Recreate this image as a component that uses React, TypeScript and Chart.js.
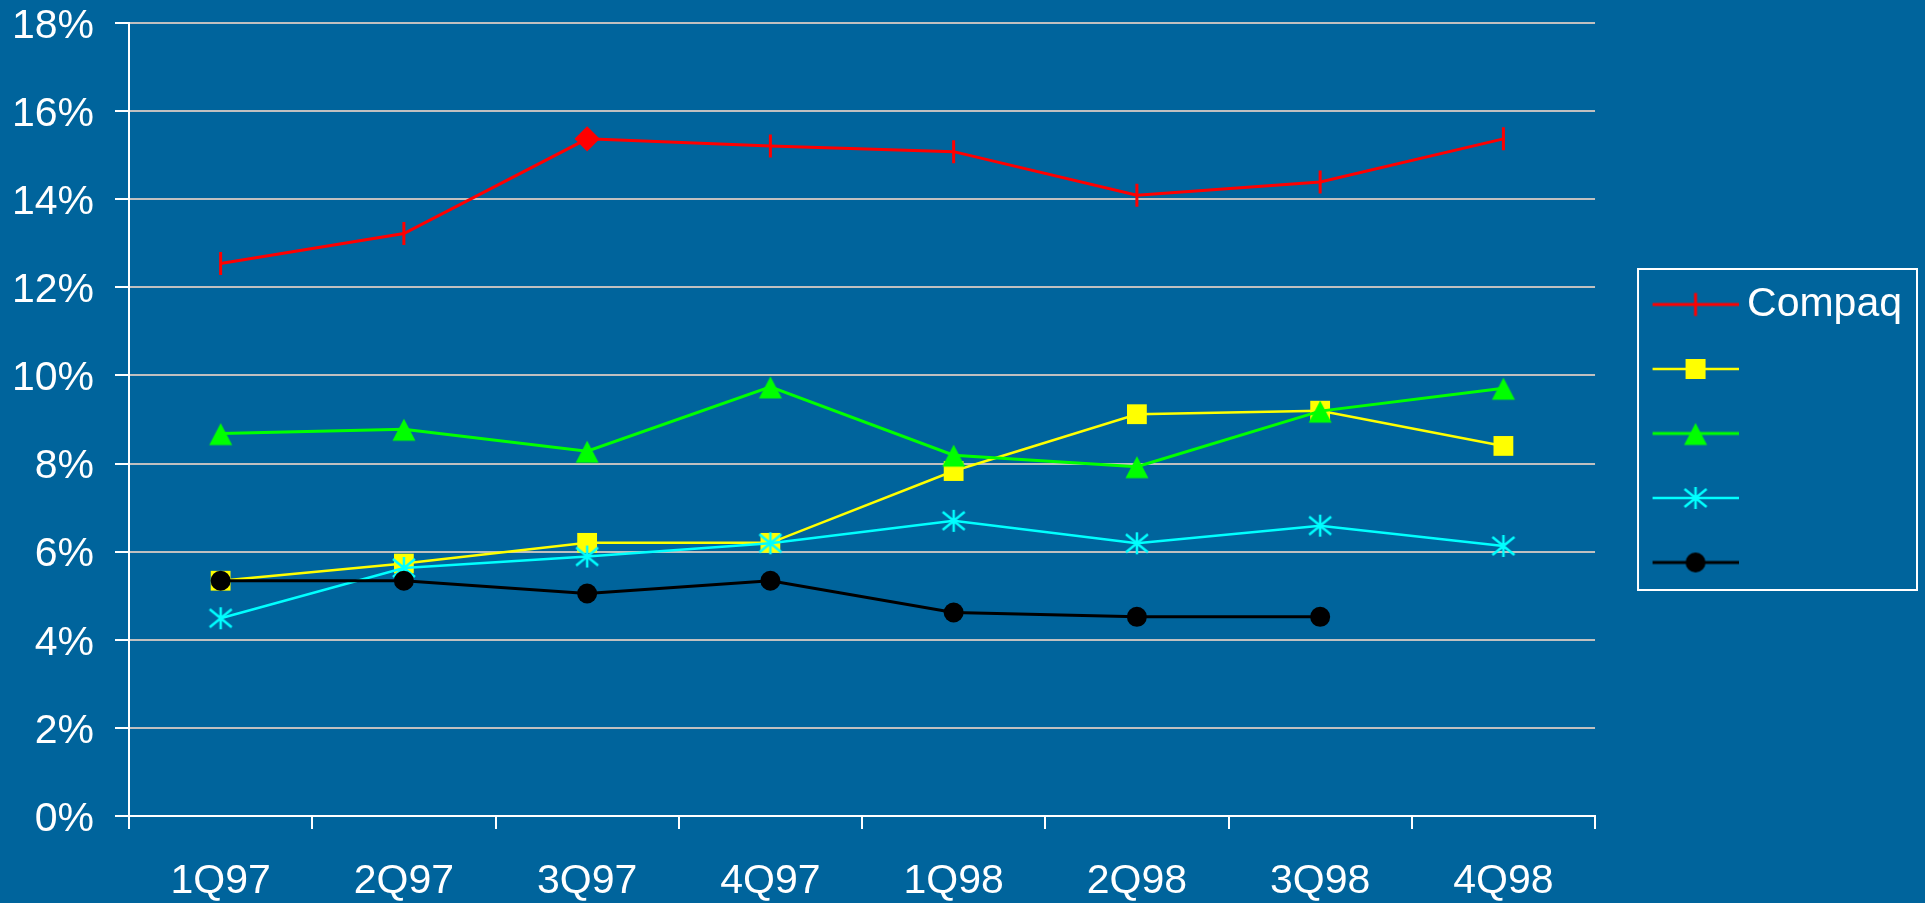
import React, { useEffect, useRef } from 'react';
import { Chart, registerables } from 'chart.js';

Chart.register(...registerables);

// ---------- data ----------
const categories = ['1Q97', '2Q97', '3Q97', '4Q97', '1Q98', '2Q98', '3Q98', '4Q98'];
const seriesNames = ['Compaq', '', '', '', ''];
const compaqShare = [12.54, 13.22, 15.37, 15.21, 15.08, 14.09, 14.39, 15.37];
const yellowShare = [5.34, 5.73, 6.2, 6.2, 7.83, 9.12, 9.2, 8.4];
const greenShare = [8.68, 8.78, 8.28, 9.74, 8.19, 7.93, 9.19, 9.71];
const cyanShare = [4.49, 5.63, 5.89, 6.19, 6.7, 6.19, 6.59, 6.13];
const blackShare = [5.34, 5.34, 5.05, 5.34, 4.62, 4.52, 4.52, null];
const yMin = 0;
const yMax = 18;
const yStep = 2;
const compaqDiamondIndex = 2;

// ---------- styles ----------
const BG = 'rgb(0,100,156)';
const FONT = "'Liberation Sans', Arial, sans-serif";
const GRID = '#C0C0C0';
const RED = '#FF0000';
const YELLOW = '#FFFF00';
const GREEN = '#00FF00';
const CYAN = '#00FFFF';
const BLACK = '#000000';

const TICK_FONT = 41;
const LEGEND_FONT = 41;
const LEGEND_PAD = 23.5;
const LEGEND_TITLE_H = 28;
const ICON_W = 132;
const ICON_H = 30;
const LINE_START = 46;
const MARKER_X = 89;

type MarkerFn = (ctx: CanvasRenderingContext2D, x: number, y: number) => void;

const drawTriangle: MarkerFn = (ctx, x, y) => {
  ctx.fillStyle = GREEN;
  ctx.beginPath();
  ctx.moveTo(x, y - 10.5);
  ctx.lineTo(x + 11.5, y + 11.5);
  ctx.lineTo(x - 11.5, y + 11.5);
  ctx.closePath();
  ctx.fill();
};

const drawAsterisk: MarkerFn = (ctx, x, y) => {
  ctx.strokeStyle = CYAN;
  ctx.lineWidth = 2.5;
  ctx.lineCap = 'butt';
  ctx.beginPath();
  ctx.moveTo(x, y - 11);
  ctx.lineTo(x, y + 11);
  ctx.moveTo(x - 11, y - 9);
  ctx.lineTo(x + 11, y + 9);
  ctx.moveTo(x - 11, y + 9);
  ctx.lineTo(x + 11, y - 9);
  ctx.stroke();
};

const drawVTick: MarkerFn = (ctx, x, y) => {
  ctx.strokeStyle = RED;
  ctx.lineWidth = 3;
  ctx.beginPath();
  ctx.moveTo(x, y - 11.5);
  ctx.lineTo(x, y + 11.5);
  ctx.stroke();
};

const drawSquare: MarkerFn = (ctx, x, y) => {
  ctx.fillStyle = YELLOW;
  ctx.fillRect(x - 10, y - 10, 20, 20);
};

const drawCircle: MarkerFn = (ctx, x, y) => {
  ctx.fillStyle = BLACK;
  ctx.beginPath();
  ctx.arc(x, y, 10, 0, Math.PI * 2);
  ctx.fill();
};

function makeMarker(fn: MarkerFn): HTMLCanvasElement {
  const c = document.createElement('canvas');
  c.width = 28;
  c.height = 28;
  const ctx = c.getContext('2d')!;
  fn(ctx, 14, 14);
  return c;
}

function makeLegendIcon(color: string, lineWidth: number, fn: MarkerFn): HTMLCanvasElement {
  const c = document.createElement('canvas');
  c.width = ICON_W;
  c.height = ICON_H;
  const ctx = c.getContext('2d')!;
  ctx.strokeStyle = color;
  ctx.lineWidth = lineWidth;
  ctx.beginPath();
  ctx.moveTo(LINE_START, ICON_H / 2);
  ctx.lineTo(ICON_W, ICON_H / 2);
  ctx.stroke();
  fn(ctx, MARKER_X, ICON_H / 2);
  return c;
}

const legendBorder = {
  id: 'legendBorder',
  afterDraw(chart: any) {
    const lg = chart.legend;
    if (!lg) return;
    const ctx = chart.ctx as CanvasRenderingContext2D;
    const colH = 5 * (LEGEND_FONT + LEGEND_PAD);
    const y0 = (lg.top + LEGEND_TITLE_H + LEGEND_PAD + lg.bottom - colH) / 2;
    const top = y0 - 15;
    const bottom = y0 + 306;
    const left = lg.left + 43;
    const right = chart.width - 8;
    ctx.save();
    ctx.strokeStyle = '#FFFFFF';
    ctx.lineWidth = 2;
    ctx.strokeRect(left, top, right - left, bottom - top);
    ctx.restore();
  },
};

export default function App() {
  const ref = useRef<HTMLCanvasElement | null>(null);

  useEffect(() => {
    if (!ref.current) return;
    const triImg = makeMarker(drawTriangle);
    const starImg = makeMarker(drawAsterisk);

    const icons = [
      makeLegendIcon(RED, 3, drawVTick),
      makeLegendIcon(YELLOW, 2.5, drawSquare),
      makeLegendIcon(GREEN, 3, drawTriangle),
      makeLegendIcon(CYAN, 2.5, drawAsterisk),
      makeLegendIcon(BLACK, 3, drawCircle),
    ];

    const chart = new Chart(ref.current, {
      type: 'line',
      data: {
        labels: categories,
        datasets: [
          {
            label: seriesNames[0],
            data: compaqShare,
            borderColor: RED,
            backgroundColor: RED,
            borderWidth: 3,
            order: 5,
            pointStyle: (c: any) => (c.dataIndex === compaqDiamondIndex ? 'rectRot' : 'line'),
            pointRadius: (c: any) => (c.dataIndex === compaqDiamondIndex ? 10.5 : 11.5),
            pointRotation: 90,
            pointBorderWidth: 3,
            pointBorderColor: RED,
            pointBackgroundColor: RED,
          },
          {
            label: seriesNames[1],
            data: yellowShare,
            borderColor: YELLOW,
            backgroundColor: YELLOW,
            borderWidth: 2.5,
            order: 4,
            pointStyle: 'rect',
            pointRadius: 14,
            pointBorderWidth: 0,
            pointBackgroundColor: YELLOW,
          },
          {
            label: seriesNames[2],
            data: greenShare,
            borderColor: GREEN,
            backgroundColor: GREEN,
            borderWidth: 3,
            order: 3,
            pointStyle: triImg,
            pointRadius: 12,
          },
          {
            label: seriesNames[3],
            data: cyanShare,
            borderColor: CYAN,
            backgroundColor: CYAN,
            borderWidth: 2.5,
            order: 2,
            pointStyle: starImg,
            pointRadius: 12,
          },
          {
            label: seriesNames[4],
            data: blackShare,
            borderColor: BLACK,
            backgroundColor: BLACK,
            borderWidth: 3,
            order: 1,
            pointStyle: 'circle',
            pointRadius: 10,
            pointBorderWidth: 0,
            pointBackgroundColor: BLACK,
          },
        ],
      },
      options: {
        responsive: false,
        animation: false,
        events: [],
        devicePixelRatio: 1,
        layout: { padding: { top: 23, left: 14, right: 13, bottom: 0 } },
        elements: { line: { tension: 0 } },
        scales: {
          x: {
            offset: true,
            afterFit: (s: any) => {
              s.height = 87;
              s.paddingLeft = 0;
              s.paddingRight = 0;
            },
            grid: {
              display: true,
              offset: true,
              drawOnChartArea: false,
              drawTicks: true,
              tickLength: 13,
              tickColor: '#FFFFFF',
              tickWidth: 2,
              color: '#FFFFFF',
              lineWidth: 2,
            },
            border: { display: true, color: '#FFFFFF', width: 2 },
            ticks: {
              color: '#FFFFFF',
              font: { family: FONT, size: TICK_FONT },
              padding: 28,
              maxRotation: 0,
              autoSkip: false,
            },
          },
          y: {
            min: yMin,
            max: yMax,
            afterFit: (s: any) => {
              s.width = 115;
              s.paddingTop = 0;
              s.paddingBottom = 0;
            },
            grid: {
              color: (c: any) => (c.tick && c.tick.value === 0 ? '#FFFFFF' : GRID),
              lineWidth: 2,
              tickLength: 14,
              tickColor: '#FFFFFF',
              tickWidth: 2,
            },
            border: { display: true, color: '#FFFFFF', width: 2 },
            ticks: {
              stepSize: yStep,
              color: '#FFFFFF',
              font: { family: FONT, size: TICK_FONT, lineHeight: 1 },
              padding: 21,
              labelOffset: 3.5,
              callback: (v: any) => `${v}%`,
            },
          },
        },
        plugins: {
          tooltip: { enabled: false },
          legend: {
            position: 'right',
            fullSize: false,
            align: 'center',
            title: {
              display: true,
              text: ' ',
              font: { family: FONT, size: 20, lineHeight: 1 },
              padding: 4,
            },
            labels: {
              usePointStyle: true,
              pointStyleWidth: 108,
              boxHeight: LEGEND_FONT,
              padding: LEGEND_PAD,
              color: '#FFFFFF',
              font: { family: FONT, size: LEGEND_FONT },
              generateLabels: () =>
                seriesNames.map((name, i) => ({
                  text: name,
                  fillStyle: 'rgba(0,0,0,0)',
                  strokeStyle: 'rgba(0,0,0,0)',
                  lineWidth: 0,
                  hidden: false,
                  datasetIndex: i,
                  pointStyle: icons[i] as any,
                  fontColor: '#FFFFFF',
                })),
            },
          },
        },
      } as any,
      plugins: [legendBorder],
    });

    return () => chart.destroy();
  }, []);

  return (
    <div
      style={{
        position: 'fixed',
        left: 0,
        top: 0,
        width: '1925px',
        height: '903px',
        background: BG,
      }}
    >
      <canvas ref={ref} width={1925} height={903} style={{ display: 'block' }} />
    </div>
  );
}
